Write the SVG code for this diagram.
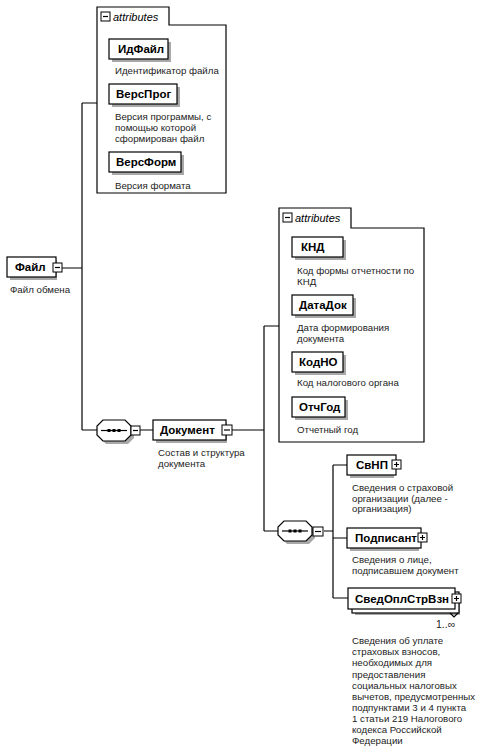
<svg xmlns="http://www.w3.org/2000/svg" width="483" height="754" viewBox="0 0 483 754">
<style>
.bg{fill:#fff}
.box{fill:#fff;stroke:#000;stroke-width:1.2}
.sh{fill:#a8a8a8}
.lbl{font-family:"Liberation Sans",Arial,sans-serif;font-size:11.5px;font-weight:bold;fill:#000}
.desc{font-family:"Liberation Sans",Arial,sans-serif;font-size:9.7px;fill:#222}
.tab{font-family:"Liberation Sans",Arial,sans-serif;font-size:11px;font-style:italic;fill:#000}
.ln{fill:none;stroke:#000;stroke-width:1.2}
.ic{fill:#fff;stroke:#000;stroke-width:1}
</style>
<rect class="bg" x="0" y="0" width="483" height="754"/>
<g id="connectors">
<path class="ln" d="M61,268 H82 M82,103 V430 M82,103 H97 M82,430 H97 M140,430 H153 M232,430 H264 M264,326 V531 M264,326 H279 M264,531 H278 M324,531 H333 M333,465 V598 M333,465 H347 M333,538 H347 M333,598 H348"/>
</g>
<g id="attributes1">
<path class="box" d="M97,193 V7 H169 V25 H226 V193 Z"/>
<rect class="ic" x="101" y="12" width="9" height="9"/><path class="ln" d="M103,16.5 H108"/>
<text class="tab" x="113" y="21">attributes</text>
</g>
<g id="ИдФайл">
<rect class="sh" x="112" y="42" width="59" height="20"/>
<rect class="box" x="109" y="39" width="59" height="20"/>
<text class="lbl" x="118" y="53">ИдФайл</text>
<text class="desc" x="115" y="74">Идентификатор файла</text>
</g>
<g id="ВерсПрог">
<rect class="sh" x="112" y="87" width="68" height="20"/>
<rect class="box" x="109" y="84" width="68" height="20"/>
<text class="lbl" x="116" y="98">ВерсПрог</text>
<text class="desc" x="115" y="120">Версия программы, с</text>
<text class="desc" x="115" y="131">помощью которой</text>
<text class="desc" x="115" y="142">сформирован файл</text>
</g>
<g id="ВерсФорм">
<rect class="sh" x="112" y="155" width="72" height="20"/>
<rect class="box" x="109" y="152" width="72" height="20"/>
<text class="lbl" x="116" y="166">ВерсФорм</text>
<text class="desc" x="115" y="189">Версия формата</text>
</g>
<g id="Файл">
<rect class="sh" x="10" y="260" width="47" height="20"/>
<rect class="box" x="7" y="257" width="49" height="20"/>
<rect class="ic" x="53" y="263" width="9" height="9"/><path class="ln" d="M55,267.5 H60"/>
<text class="lbl" x="15" y="271">Файл</text>
<text class="desc" x="10" y="293">Файл обмена</text>
</g>
<g id="seq1">
<polygon class="sh" points="106,423 128,423 134,429 134,438 128,444 106,444 100,438 100,429"/>
<polygon class="box" points="103,420 125,420 131,426 131,435 125,441 103,441 97,435 97,426"/>
<path class="ln" d="M101,430.5 H127"/>
<rect x="107.5" y="429" width="3" height="3"/><rect x="112.5" y="429" width="3" height="3"/><rect x="117.5" y="429" width="3" height="3"/>
<rect class="ic" x="131" y="426" width="9" height="9"/><path class="ln" d="M133,430.5 H138"/>
</g>
<g id="Документ">
<rect class="sh" x="156" y="423" width="71" height="20"/>
<rect class="box" x="153" y="420" width="73" height="20"/>
<rect class="ic" x="222" y="425" width="10" height="10"/><path class="ln" d="M224,430 H230"/>
<text class="lbl" x="160" y="434">Документ</text>
<text class="desc" x="158" y="456">Состав и структура</text>
<text class="desc" x="158" y="467">документа</text>
</g>
<g id="attributes2">
<path class="box" d="M279,442 V208 H351 V228 H424 V442 Z"/>
<rect class="ic" x="283" y="213" width="9" height="9"/><path class="ln" d="M285,217.5 H290"/>
<text class="tab" x="295" y="222">attributes</text>
</g>
<g id="КНД">
<rect class="sh" x="295" y="240" width="51" height="20"/>
<rect class="box" x="292" y="237" width="51" height="20"/>
<text class="lbl" x="301" y="251">КНД</text>
<text class="desc" x="297" y="274">Код формы отчетности по</text>
<text class="desc" x="297" y="285">КНД</text>
</g>
<g id="ДатаДок">
<rect class="sh" x="295" y="298" width="61" height="20"/>
<rect class="box" x="292" y="295" width="61" height="20"/>
<text class="lbl" x="299" y="309">ДатаДок</text>
<text class="desc" x="297" y="331">Дата формирования</text>
<text class="desc" x="297" y="342">документа</text>
</g>
<g id="КодНО">
<rect class="sh" x="295" y="355" width="51" height="20"/>
<rect class="box" x="292" y="352" width="51" height="20"/>
<text class="lbl" x="299" y="366">КодНО</text>
<text class="desc" x="297" y="386">Код налогового органа</text>
</g>
<g id="ОтчГод">
<rect class="sh" x="295" y="400" width="53" height="20"/>
<rect class="box" x="292" y="397" width="53" height="20"/>
<text class="lbl" x="299" y="411">ОтчГод</text>
<text class="desc" x="297" y="433">Отчетный год</text>
</g>
<g id="seq2">
<polygon class="sh" points="287,524 309,524 315,530 315,538 309,544 287,544 281,538 281,530"/>
<polygon class="box" points="284,521 306,521 312,527 312,535 306,541 284,541 278,535 278,527"/>
<path class="ln" d="M282,531 H308"/>
<rect x="288.5" y="529.5" width="3" height="3"/><rect x="293.5" y="529.5" width="3" height="3"/><rect x="298.5" y="529.5" width="3" height="3"/>
<rect class="ic" x="313" y="527" width="10" height="9"/><path class="ln" d="M315,531.5 H321"/>
</g>
<g id="СвНП">
<rect class="sh" x="350" y="458" width="44" height="20"/>
<rect class="box" x="347" y="455" width="49" height="20"/>
<rect class="ic" x="392" y="460" width="9" height="9"/><path class="ln" d="M394,464.5 H399 M396.5,462 V467"/>
<text class="lbl" x="356" y="469">СвНП</text>
<text class="desc" x="352" y="491">Сведения о страховой</text>
<text class="desc" x="352" y="502">организации (далее -</text>
<text class="desc" x="352" y="512">организация)</text>
</g>
<g id="Подписант">
<rect class="sh" x="350" y="531" width="69" height="20"/>
<rect class="box" x="347" y="528" width="74" height="20"/>
<rect class="ic" x="418" y="533" width="9" height="9"/><path class="ln" d="M420,537.5 H425 M422.5,535 V540"/>
<text class="lbl" x="355" y="542">Подписант</text>
<text class="desc" x="352" y="563">Сведения о лице,</text>
<text class="desc" x="352" y="574">подписавшем документ</text>
</g>
<g id="СведОплСтрВзн">
<rect class="sh" x="355" y="595" width="105" height="20"/>
<rect class="box" x="352" y="592" width="107" height="21"/>
<rect class="box" x="348" y="588" width="107" height="21"/>
<rect class="ic" x="452" y="594" width="9" height="9"/><path class="ln" d="M454,598.5 H459 M456.5,596 V601"/>
<path class="ln" d="M450,613 L454,617 L458,613"/>
<text class="lbl" x="355" y="603">СведОплСтрВзн</text>
<text class="desc" x="436" y="628" style="font-size:10.5px">1..∞</text>
<text class="desc" x="352" y="644">Сведения об уплате</text>
<text class="desc" x="352" y="655">страховых взносов,</text>
<text class="desc" x="352" y="666">необходимых для</text>
<text class="desc" x="352" y="678">предоставления</text>
<text class="desc" x="352" y="689">социальных налоговых</text>
<text class="desc" x="352" y="700">вычетов, предусмотренных</text>
<text class="desc" x="352" y="711">подпунктами 3 и 4 пункта</text>
<text class="desc" x="352" y="722">1 статьи 219 Налогового</text>
<text class="desc" x="352" y="733">кодекса Российской</text>
<text class="desc" x="352" y="744">Федерации</text>
</g>
</svg>
